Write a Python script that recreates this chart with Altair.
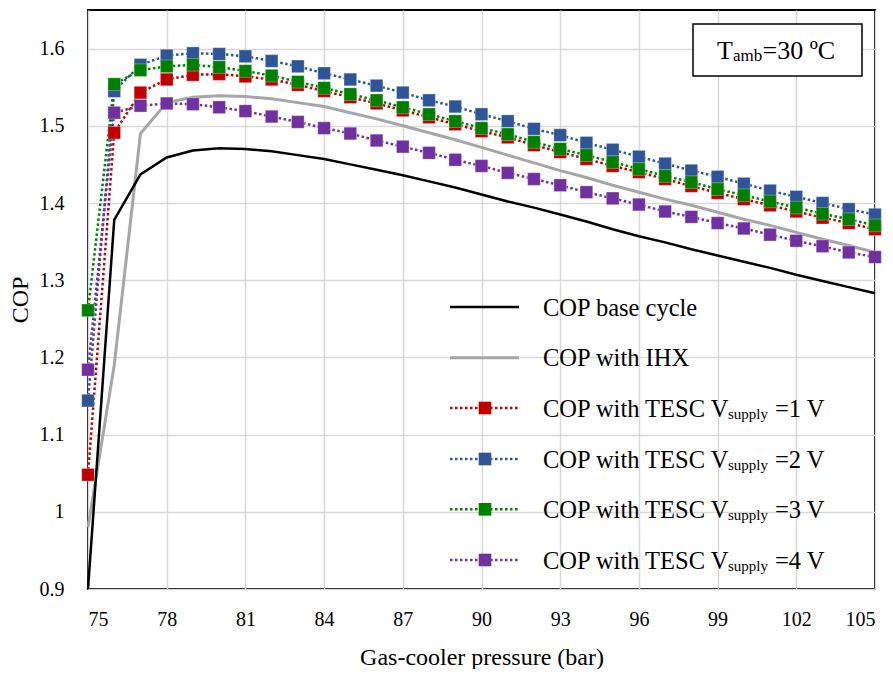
import altair as alt
import pandas as pd

pressure = list(range(75, 106))

cop_base = [0.900, 1.378, 1.437, 1.459, 1.468, 1.471, 1.470, 1.467, 1.462, 1.457, 1.450,
            1.443, 1.436, 1.428, 1.420, 1.411, 1.402, 1.394, 1.385, 1.376, 1.366,
            1.357, 1.349, 1.340, 1.332, 1.324, 1.316, 1.307, 1.299, 1.291, 1.283]
cop_ihx = [0.980, 1.190, 1.490, 1.530, 1.537, 1.539, 1.538, 1.535, 1.530, 1.525, 1.517,
           1.509, 1.500, 1.491, 1.482, 1.472, 1.462, 1.452, 1.442, 1.433, 1.423,
           1.414, 1.405, 1.397, 1.388, 1.379, 1.371, 1.362, 1.353, 1.345, 1.336]
cop_v1 = [1.048, 1.491, 1.543, 1.560, 1.566, 1.567, 1.564, 1.560, 1.553, 1.545, 1.537,
          1.529, 1.520, 1.511, 1.502, 1.493, 1.485, 1.475, 1.466, 1.457, 1.448,
          1.440, 1.431, 1.422, 1.413, 1.405, 1.397, 1.389, 1.381, 1.374, 1.366]
cop_v2 = [1.144, 1.545, 1.579, 1.591, 1.594, 1.593, 1.590, 1.584, 1.577, 1.568, 1.560,
          1.552, 1.543, 1.533, 1.525, 1.515, 1.506, 1.496, 1.488, 1.478, 1.469,
          1.460, 1.451, 1.442, 1.434, 1.425, 1.416, 1.408, 1.400, 1.392, 1.385]
cop_v3 = [1.261, 1.554, 1.572, 1.577, 1.579, 1.576, 1.571, 1.565, 1.557, 1.549, 1.541,
          1.533, 1.524, 1.515, 1.506, 1.497, 1.489, 1.479, 1.470, 1.462, 1.453,
          1.444, 1.435, 1.427, 1.418, 1.410, 1.402, 1.394, 1.386, 1.379, 1.371]
cop_v4 = [1.184, 1.517, 1.526, 1.529, 1.528, 1.524, 1.519, 1.512, 1.505, 1.497, 1.490,
          1.481, 1.473, 1.465, 1.456, 1.448, 1.439, 1.431, 1.423, 1.414, 1.406,
          1.398, 1.389, 1.382, 1.374, 1.367, 1.359, 1.351, 1.344, 1.336, 1.330]

tesc_names = ["V1", "V2", "V3", "V4"]
tesc_voltages = ["1", "2", "3", "4"]
tesc_colors = ["#C00000", "#2F5597", "#008000", "#7030A0"]
x_ticks = [75, 78, 81, 84, 87, 90, 93, 96, 99, 102, 105]
y_ticks = [0.9, 1.0, 1.1, 1.2, 1.3, 1.4, 1.5, 1.6]

FONT = "Liberation Serif"
W, H = 787, 579

base_df = pd.DataFrame({"p": pressure, "cop": cop_base})
ihx_df = pd.DataFrame({"p": pressure, "cop": cop_ihx})
tesc_df = pd.concat([
    pd.DataFrame({"p": pressure, "cop": vals, "s": name})
    for name, vals in zip(tesc_names, [cop_v1, cop_v2, cop_v3, cop_v4])
], ignore_index=True)

xs = alt.Scale(domain=[75, 105], nice=False, zero=False)
ys = alt.Scale(domain=[0.9, 1.65], nice=False, zero=False)
xenc = alt.X("p:Q", scale=xs, title="Gas-cooler pressure (bar)",
             axis=alt.Axis(values=x_ticks, labelPadding=20, titlePadding=16))
yenc = alt.Y("cop:Q", scale=ys, title="COP",
             axis=alt.Axis(values=y_ticks, format="~g", labelPadding=24, titlePadding=7))
cscale = alt.Scale(domain=tesc_names, range=tesc_colors)

base_line = alt.Chart(base_df).mark_line(color="black", strokeWidth=2.5).encode(x=xenc, y=yenc)
ihx_line = alt.Chart(ihx_df).mark_line(color="#A6A6A6", strokeWidth=3).encode(x=xenc, y=yenc)
tesc_lines = alt.Chart(tesc_df).mark_line(strokeWidth=2.5, strokeDash=[2.5, 2.5]).encode(
    x=xenc, y=yenc, color=alt.Color("s:N", scale=cscale, legend=None), detail="s:N")
tesc_pts = alt.Chart(tesc_df).mark_point(shape="square", filled=True, size=160, opacity=1,
                                         stroke="white", strokeWidth=0.6, strokeOpacity=0.5).encode(
    x=xenc, y=yenc, fill=alt.Fill("s:N", scale=cscale, legend=None))

layers = [ihx_line, base_line, tesc_lines, tesc_pts]

# manual legend (pixel positions relative to plot area)
row_y = [297, 347.7, 398, 449, 499.3, 550]
sym_x0, sym_x1, sym_xm, txt_x = 362, 431, 397, 455
LF = 24.5
one = pd.DataFrame({"k": [0]})

def text_layer(txt, x, y, size, baseline="alphabetic"):
    return alt.Chart(pd.DataFrame({"t": [txt]})).mark_text(
        font=FONT, fontSize=size, align="left", baseline=baseline, color="black").encode(
        x=alt.value(x), y=alt.value(y), text="t:N")

layers.append(alt.Chart(one).mark_rule(color="black", strokeWidth=2.5).encode(
    x=alt.value(sym_x0), x2=alt.value(sym_x1), y=alt.value(row_y[0])))
layers.append(text_layer("COP base cycle", txt_x, row_y[0] + 8.5, LF))
layers.append(alt.Chart(one).mark_rule(color="#A6A6A6", strokeWidth=3).encode(
    x=alt.value(sym_x0), x2=alt.value(sym_x1), y=alt.value(row_y[1])))
layers.append(text_layer("COP with IHX", txt_x, row_y[1] + 8.5, LF))
for i, (v, col) in enumerate(zip(tesc_voltages, tesc_colors)):
    yy = row_y[2 + i]
    layers.append(alt.Chart(one).mark_rule(color=col, strokeWidth=2.5, strokeDash=[2.5, 2.5]).encode(
        x=alt.value(sym_x0), x2=alt.value(sym_x1), y=alt.value(yy)))
    layers.append(alt.Chart(one).mark_point(shape="square", filled=True, size=160, color=col,
                                            opacity=1).encode(x=alt.value(sym_xm), y=alt.value(yy)))
    layers.append(text_layer("COP with TESC V", txt_x, yy + 8.5, LF))
    layers.append(text_layer("supply", txt_x + 185, yy + 10.5, 15))
    layers.append(text_layer("=" + v + " V", txt_x + 232, yy + 8.5, LF))

# title box
layers.append(alt.Chart(one).mark_rect(fill="white", stroke="black", strokeWidth=1.5).encode(
    x=alt.value(605), x2=alt.value(774), y=alt.value(14), y2=alt.value(66)))
layers.append(text_layer("T", 629, 48.5, 26))
layers.append(text_layer("amb", 645, 50.5, 17))
layers.append(text_layer("=30 ºC", 674.5, 48.5, 26))

chart = alt.layer(*layers).properties(
    width=W, height=H, background="white",
    autosize=alt.AutoSizeParams(type="none"),
    padding={"left": 80, "top": 2, "right": 10, "bottom": 80},
).configure_view(stroke="black", strokeWidth=2).configure_axis(
    labelFont=FONT, labelFontSize=20, labelColor="black",
    titleFont=FONT, titleFontSize=24, titleFontWeight="normal", titleColor="black",
    grid=True, gridColor="#D9D9D9", gridWidth=1.5, domain=False, ticks=False,
)

chart.save("out.html", embed_options={"renderer": "svg", "actions": False})
